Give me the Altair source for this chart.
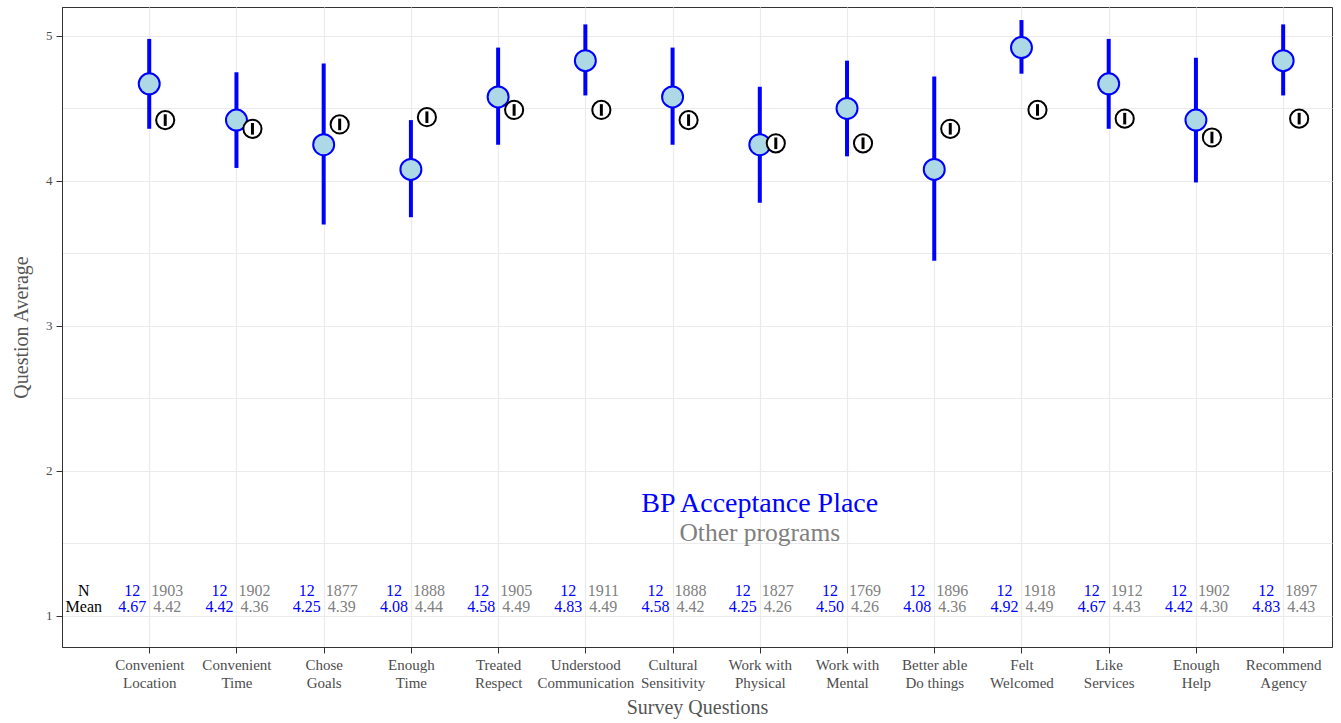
import json

import altair as alt
import pandas as pd

# Survey items (two-line axis labels)
questions = [
    "Convenient\nLocation", "Convenient\nTime", "Chose\nGoals", "Enough\nTime",
    "Treated\nRespect", "Understood\nCommunication", "Cultural\nSensitivity",
    "Work with\nPhysical", "Work with\nMental", "Better able\nDo things",
    "Felt\nWelcomed", "Like\nServices", "Enough\nHelp", "Recommend\nAgency",
]

# BP Acceptance Place: mean with interval
bp_n = [12, 12, 12, 12, 12, 12, 12, 12, 12, 12, 12, 12, 12, 12]
bp_mean = [4.67, 4.42, 4.25, 4.08, 4.58, 4.83, 4.58, 4.25, 4.50, 4.08, 4.92, 4.67, 4.42, 4.83]
bp_low = [4.36, 4.09, 3.70, 3.75, 4.25, 4.59, 4.25, 3.85, 4.17, 3.45, 4.74, 4.36, 3.99, 4.59]
bp_high = [4.98, 4.75, 4.81, 4.42, 4.92, 5.08, 4.92, 4.65, 4.83, 4.72, 5.11, 4.98, 4.85, 5.08]

# Other programs: mean with interval
other_n = [1903, 1902, 1877, 1888, 1905, 1911, 1888, 1827, 1769, 1896, 1918, 1912, 1902, 1897]
other_mean = [4.42, 4.36, 4.39, 4.44, 4.49, 4.49, 4.42, 4.26, 4.26, 4.36, 4.49, 4.43, 4.30, 4.43]
other_low = [4.38, 4.32, 4.35, 4.40, 4.45, 4.45, 4.38, 4.22, 4.22, 4.32, 4.45, 4.39, 4.26, 4.39]
other_high = [4.46, 4.40, 4.43, 4.48, 4.53, 4.53, 4.46, 4.30, 4.30, 4.40, 4.53, 4.47, 4.34, 4.47]

y_ticks = [1, 1.5, 2, 2.5, 3, 3.5, 4, 4.5, 5]

df = pd.DataFrame({
    "idx": list(range(1, len(questions) + 1)),
    "bp_n": bp_n, "bp_mean": bp_mean, "bp_low": bp_low, "bp_high": bp_high,
    "other_n": other_n, "other_mean": other_mean,
    "other_low": other_low, "other_high": other_high,
})

FONT = "Liberation Serif"
BLUE = "#0000FF"
GREY = "#808080"

label_lines = json.dumps([q.split("\n") for q in questions])

x_scale = alt.Scale(domain=[0, 14.56], nice=False, zero=False)
y_scale = alt.Scale(domain=[0.786, 5.2], nice=False, zero=False)

x_axis = alt.Axis(
    values=list(range(1, len(questions) + 1)),
    labelExpr=f"{label_lines}[datum.value - 1]",
    labelLineHeight=18, labelFontSize=15, labelColor="#4D4D4D", labelFont=FONT,
    labelBaseline="top", labelPadding=4, labelAngle=0,
    tickSize=6, tickColor="#333333", domainColor="#333333",
    grid=True, gridColor="#EBEBEB", gridWidth=1.2,
    title="Survey Questions", titleFont=FONT, titleFontSize=20,
    titleFontWeight="normal", titleColor="#555555",
    titleX=635, titleY=60, titleBaseline="middle",
)
y_axis = alt.Axis(
    values=y_ticks,
    labelExpr="datum.value % 1 === 0 ? format(datum.value, 'd') : ''",
    labelFontSize=13, labelColor="#4D4D4D", labelFont=FONT, labelPadding=4,
    tickSize=6, tickColor="#333333", domainColor="#333333",
    tickOpacity={"condition": {"test": "datum.value % 1 === 0", "value": 1}, "value": 0},
    grid=True, gridColor="#EBEBEB", gridWidth=1.2,
    title="Question Average", titleFont=FONT, titleFontSize=20,
    titleFontWeight="normal", titleColor="#555555",
    titleX=-41, titleY=320, titleBaseline="middle", titleAngle=-90,
)

base = alt.Chart(df)
x_enc = alt.X("idx:Q", scale=x_scale, axis=x_axis)

bp_bar = base.mark_rule(color=BLUE, strokeWidth=4).encode(
    x=x_enc, y=alt.Y("bp_low:Q", scale=y_scale, axis=y_axis), y2="bp_high:Q"
)
bp_dot = base.mark_point(
    shape="circle", filled=True, fill="#ADD8E6", stroke=BLUE,
    strokeWidth=2, size=440, opacity=1,
).encode(x="idx:Q", y="bp_mean:Q")

other_dot = base.mark_point(
    shape="circle", filled=True, fill="white", stroke="black",
    strokeWidth=2, size=330, opacity=1, xOffset=16,
).encode(x="idx:Q", y="other_mean:Q")
other_bar = base.mark_rule(color="black", strokeWidth=3, xOffset=16).encode(
    x="idx:Q", y="other_low:Q", y2="other_high:Q"
)

text_style = dict(font=FONT, fontSize=16, baseline="middle", align="center")
n_bp = base.mark_text(color=BLUE, dx=-17, **text_style).encode(
    x="idx:Q", y=alt.datum(1.17), text="bp_n:Q"
)
m_bp = base.mark_text(color=BLUE, dx=-17, **text_style).encode(
    x="idx:Q", y=alt.datum(1.06), text=alt.Text("bp_mean:Q", format=".2f")
)
n_other = base.mark_text(color=GREY, dx=18, **text_style).encode(
    x="idx:Q", y=alt.datum(1.17), text="other_n:Q"
)
m_other = base.mark_text(color=GREY, dx=18, **text_style).encode(
    x="idx:Q", y=alt.datum(1.06), text=alt.Text("other_mean:Q", format=".2f")
)

single = alt.Data(values=[{}])
row_n = alt.Chart(single).mark_text(text="N", color="black", **text_style).encode(
    x=alt.datum(0.25), y=alt.datum(1.17)
)
row_mean = alt.Chart(single).mark_text(text="Mean", color="black", **text_style).encode(
    x=alt.datum(0.25), y=alt.datum(1.06)
)
key_bp = alt.Chart(single).mark_text(
    text="BP Acceptance Place", color=BLUE, font=FONT, fontSize=28,
    baseline="middle", align="center",
).encode(x=alt.datum(8), y=alt.datum(1.77))
key_other = alt.Chart(single).mark_text(
    text="Other programs", color=GREY, font=FONT, fontSize=25.5,
    baseline="middle", align="center",
).encode(x=alt.datum(8), y=alt.datum(1.575))

chart = alt.layer(
    bp_bar, bp_dot, other_dot, other_bar,
    n_bp, m_bp, n_other, m_other, row_n, row_mean, key_bp, key_other,
).properties(
    width=1270, height=640,
    autosize=alt.AutoSizeParams(type="none"),
    padding={"left": 62, "top": 7, "right": 9, "bottom": 76},
    background="white",
).configure_view(stroke="#333333", strokeWidth=1)

chart.save("out.html", embed_options={"renderer": "svg", "actions": False})
